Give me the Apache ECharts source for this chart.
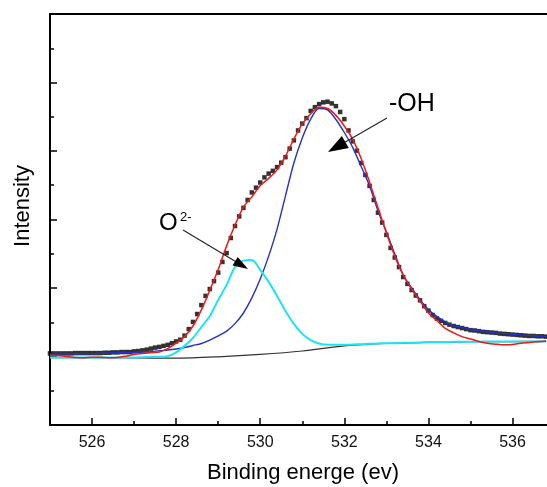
<!DOCTYPE html>
<html><head><meta charset="utf-8">
<script src="https://cdn.jsdelivr.net/npm/echarts@6/dist/echarts.min.js"></script>
<style>html,body{margin:0;padding:0;background:#fff}#c{width:547px;height:487px}</style>
</head><body><div id="c"></div>
<script>
// Experimental points (black squares)
const expEnergy = [525.0,525.1,525.2,525.3,525.4,525.5,525.6,525.7,525.8,525.9,
526.0,526.1,526.2,526.3,526.4,526.5,526.6,526.7,526.8,526.9,
527.0,527.1,527.2,527.3,527.4,527.5,527.6,527.7,527.8,527.9,
528.0,528.1,528.2,528.3,528.4,528.5,528.6,528.7,528.8,528.9,
529.0,529.1,529.2,529.3,529.4,529.5,529.6,529.7,529.8,529.9,
530.0,530.1,530.2,530.3,530.4,530.5,530.6,530.7,530.8,530.9,
531.0,531.1,531.2,531.3,531.4,531.5,531.6,531.7,531.8,531.9,
532.0,532.1,532.2,532.3,532.4,532.5,532.6,532.7,532.8,532.9,
533.0,533.1,533.2,533.3,533.4,533.5,533.6,533.7,533.8,533.9,
534.0,534.1,534.2,534.3,534.4,534.5,534.6,534.7,534.8,534.9,
535.0,535.1,535.2,535.3,535.4,535.5,535.6,535.7,535.8,535.9,
536.0,536.1,536.2,536.3,536.4,536.5,536.6,536.7,536.8];
const expIntensity = [2.09,2.09,2.09,2.09,2.09,2.09,2.10,2.10,2.10,2.10,
2.10,2.10,2.10,2.11,2.11,2.12,2.12,2.13,2.13,2.13,
2.15,2.16,2.18,2.20,2.23,2.26,2.28,2.31,2.34,2.39,
2.44,2.49,2.61,2.80,3.01,3.24,3.50,3.77,3.97,4.20,
4.45,4.76,5.02,5.46,5.81,6.09,6.34,6.57,6.79,6.93,
7.08,7.23,7.34,7.42,7.53,7.66,7.82,8.07,8.31,8.60,
8.80,8.96,9.17,9.28,9.37,9.42,9.44,9.39,9.31,9.14,
8.93,8.60,8.28,8.01,7.65,7.30,6.98,6.57,6.20,5.91,
5.55,5.17,4.89,4.61,4.32,4.12,3.94,3.78,3.64,3.47,
3.34,3.21,3.11,3.04,2.98,2.93,2.89,2.86,2.83,2.80,
2.77,2.76,2.74,2.72,2.71,2.70,2.69,2.67,2.66,2.65,
2.64,2.63,2.62,2.61,2.60,2.60,2.59,2.59,2.58];

// Fitted curves
const fitEnergy = [525.0,525.2,525.4,525.6,525.8,526.0,526.2,526.4,526.6,526.8,
527.0,527.2,527.4,527.6,527.8,528.0,528.2,528.4,528.6,528.8,
529.0,529.2,529.4,529.6,529.8,530.0,530.2,530.4,530.6,530.8,
531.0,531.2,531.4,531.6,531.8,532.0,532.2,532.4,532.6,532.8,
533.0,533.2,533.4,533.6,533.8,534.0,534.2,534.4,534.6,534.8,
535.0,535.2,535.4,535.6,535.8,536.0,536.2,536.4,536.6,536.8];
const fitSum = [2.04,2.03,2.00,1.97,1.96,1.98,1.98,1.96,1.97,2.01,
2.06,2.09,2.11,2.13,2.23,2.39,2.58,2.89,3.36,3.93,
4.54,5.23,5.84,6.36,6.66,6.99,7.20,7.45,7.85,8.35,
8.79,9.09,9.28,9.24,9.04,8.73,8.34,7.78,7.09,6.34,
5.61,4.93,4.38,3.97,3.62,3.27,3.05,2.82,2.69,2.58,
2.51,2.44,2.39,2.36,2.34,2.35,2.39,2.41,2.43,2.45];
const ohPeak = [2.07,2.07,2.08,2.08,2.08,2.08,2.09,2.10,2.11,2.11,
2.12,2.13,2.14,2.17,2.19,2.22,2.26,2.32,2.38,2.48,
2.60,2.74,2.96,3.27,3.71,4.26,4.93,5.72,6.69,7.65,
8.38,8.93,9.24,9.20,8.92,8.54,8.10,7.55,6.98,6.25,
5.64,4.99,4.38,4.00,3.66,3.37,3.17,3.01,2.91,2.85,
2.79,2.75,2.72,2.69,2.67,2.65,2.63,2.61,2.60,2.58];
const o2Peak = [1.97,1.97,1.97,1.97,1.97,1.97,1.97,1.97,1.97,1.97,
1.97,1.98,1.99,1.99,2.01,2.12,2.31,2.54,2.86,3.18,
3.65,4.09,4.61,4.80,4.82,4.53,4.18,3.77,3.33,2.95,
2.66,2.48,2.38,2.34,2.34,2.34,2.35,2.36,2.37,2.38,
2.39,2.39,2.40,2.40,2.41,2.42,2.42,2.42,2.43,2.43,
2.43,2.43,2.44,2.44,2.44,2.44,2.44,2.44,2.44,2.44];
const bgEnergy = [525.0,527.0,528.0,529.0,530.0,531.0,532.0,533.0,534.0,535.0,536.8];
const bgIntensity = [1.97,1.96,1.95,1.99,2.06,2.16,2.31,2.38,2.41,2.43,2.44];

const majorTicks = [526,528,530,532,534,536];
const minorTicks = [527,529,531,533,535];

const FONT = '"Liberation Sans", Arial, sans-serif';
function zip(a, b) { return a.map((v, i) => [v, b[i]]); }
function arrowEls(x1, y1, x2, y2, len, hw) {
  const dx = x2 - x1, dy = y2 - y1, d = Math.hypot(dx, dy), ux = dx / d, uy = dy / d;
  const bx = x2 - ux * len, by = y2 - uy * len;
  return [
    {type: 'line', shape: {x1: x1, y1: y1, x2: bx + ux * 2, y2: by + uy * 2}, style: {stroke: '#222', lineWidth: 1.1}, z: 100},
    {type: 'polygon', shape: {points: [[x2, y2], [bx - uy * hw, by + ux * hw], [bx + uy * hw, by - ux * hw]]}, style: {fill: '#000'}, z: 100}
  ];
}
function txt(text, x, y, size, align, rot) {
  return {type: 'text', x: x, y: y, rotation: rot || 0, z: 100,
    style: {text: text, fill: '#000', font: size + 'px ' + FONT, align: align || 'left', textAlign: align || 'left',
      verticalAlign: 'middle', textVerticalAlign: 'middle'}};
}

const chart = echarts.init(document.getElementById('c'), null, {renderer: 'canvas'});
const lineAxis = {lineStyle: {color: '#000', width: 2}};
const X_MIN = 525, X_MAX = 536.82;
chart.setOption({
  animation: false,
  backgroundColor: '#fff',
  grid: {left: 50, top: 14, right: 0, bottom: 62, outerBoundsMode: 'none'},
  xAxis: [
    {type: 'value', min: X_MIN, max: X_MAX, position: 'bottom', axisLine: lineAxis, splitLine: {show: false},
      axisTick: {show: true, inside: true, length: 7, customValues: majorTicks, lineStyle: {color: '#000', width: 1.5}},
      axisLabel: {customValues: majorTicks, color: '#111', fontSize: 16, fontFamily: FONT, margin: 10}},
    {type: 'value', min: X_MIN, max: X_MAX, position: 'bottom', axisLine: {show: false}, splitLine: {show: false},
      axisTick: {show: true, inside: true, length: 4, customValues: minorTicks, lineStyle: {color: '#000', width: 1.5}},
      axisLabel: {show: false}},
    {type: 'value', min: X_MIN, max: X_MAX, position: 'top', axisLine: lineAxis, splitLine: {show: false},
      axisTick: {show: false}, axisLabel: {show: false}}
  ],
  yAxis: {type: 'value', min: 0, max: 12, interval: 2, axisLine: {show: true, lineStyle: {color: '#000', width: 2}},
    axisTick: {show: true, inside: true, length: 7, lineStyle: {color: '#000', width: 1.5}},
    minorTick: {show: true, splitNumber: 2, length: 4, lineStyle: {color: '#000', width: 1.5}},
    axisLabel: {show: false}, splitLine: {show: false}},
  series: [
    {type: 'scatter', data: zip(expEnergy, expIntensity), symbol: 'rect', symbolSize: 4.5,
      itemStyle: {color: '#000'}, z: 2},
    {type: 'line', data: zip(bgEnergy, bgIntensity), showSymbol: false, smooth: 0.3,
      lineStyle: {color: '#333', width: 1.2}, z: 3},
    {type: 'line', data: zip(fitEnergy, ohPeak), showSymbol: false, smooth: 0.3,
      lineStyle: {color: '#2233c8', width: 1.4}, z: 4},
    {type: 'line', data: zip(fitEnergy, o2Peak), showSymbol: false, smooth: 0.3,
      lineStyle: {color: '#1ee4ee', width: 2}, z: 5},
    {type: 'line', data: zip(fitEnergy, fitSum), showSymbol: false, smooth: 0.3,
      lineStyle: {color: '#f01818', width: 1.5}, z: 6}
  ],
  graphic: [
    txt('Intensity', 22.5, 206, 22, 'center', Math.PI / 2),
    txt('Binding energe (ev)', 303, 473, 22, 'center'),
    txt('O', 159, 223, 24, 'left'),
    txt('2-', 180, 217, 13, 'left'),
    txt('-OH', 389, 104, 25, 'left'),
    ...arrowEls(183, 230, 248, 269, 15, 5),
    ...arrowEls(387, 118, 328, 152, 20, 7)
  ]
});
</script></body></html>
